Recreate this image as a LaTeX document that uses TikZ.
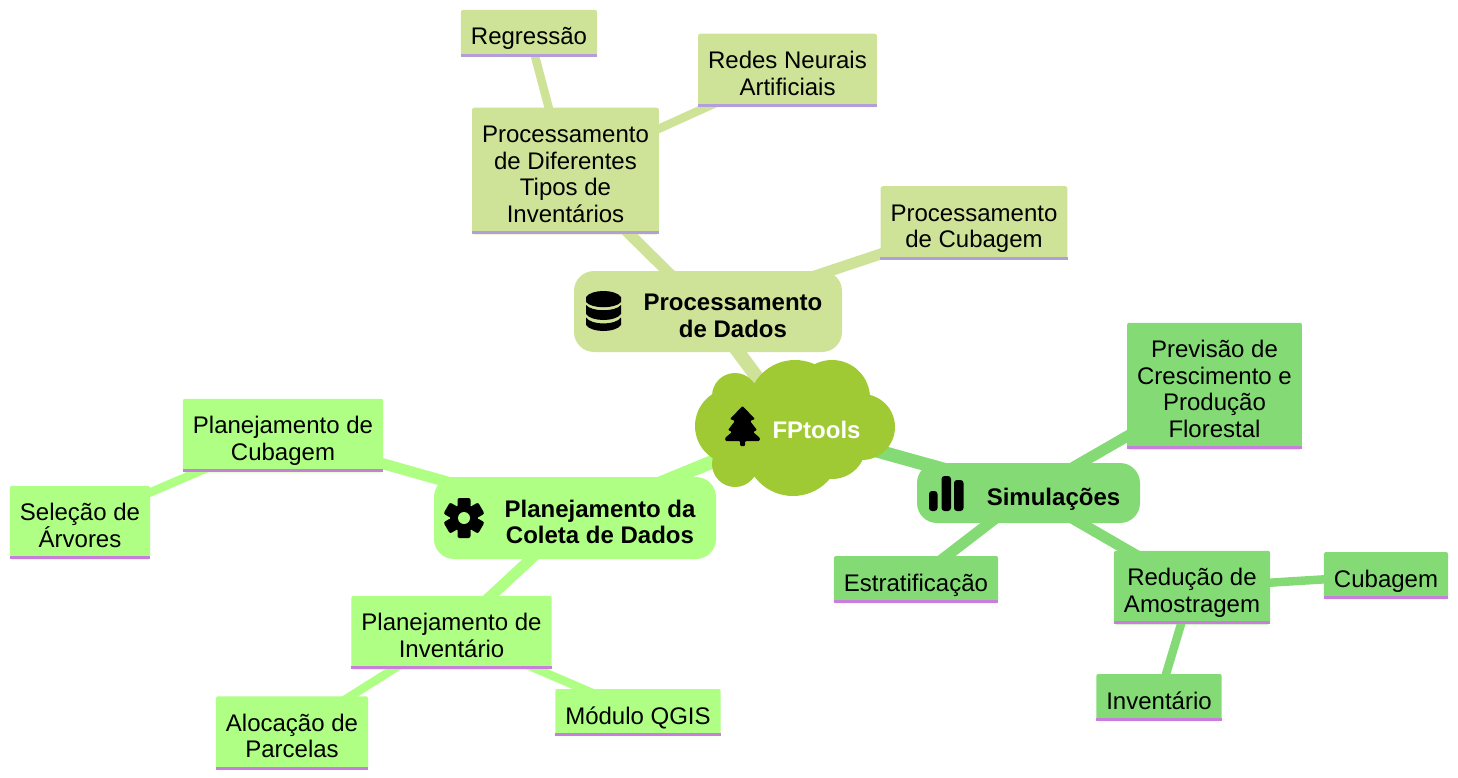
\documentclass[tikz,border=0pt]{standalone}
\usepackage{fontspec}
\setmainfont{Liberation Sans}
\usetikzlibrary{%
calc,%
backgrounds}
\definecolor{dadoscol}{HTML}{CEE397}
\definecolor{planocol}{HTML}{AEFF84}
\definecolor{simulcol}{HTML}{84DB75}
\definecolor{rootcol}{HTML}{9FCA33}
\definecolor{dadosline}{HTML}{B39DDB}
\definecolor{planoline}{HTML}{C77FDB}
\newcommand{\topstrut}{\rule{0pt}{35pt}}
\tikzset{
leafbox/.style 2 args={fill=#1,rounded corners=2pt,align=center,inner xsep=10pt,inner ysep=0pt,
    font=\fontsize{24}{26.5}\selectfont,
    execute at end node={\rule[-12pt]{0pt}{12pt}},
    append after command={[rounded corners=0pt]
    ([yshift=1.5pt]\tikzlastnode.south west) edge[draw=#2,line width=3pt] ([yshift=1.5pt]\tikzlastnode.south east)}},
sectionbox/.style={fill=#1,rounded corners=20pt},
sectiontext/.style={align=center,font=\fontsize{24}{26.5}\selectfont\bfseries},
branchone/.style={line width=13.5pt,draw=#1},
branchtwo/.style={line width=11pt,draw=#1},
branchthree/.style={line width=8.5pt,draw=#1}
}
\begin{document}
\begin{tikzpicture}[x=1pt,y=-1pt]
\useasboundingbox (0,0) rectangle (1458,778);
% root
\node[inner sep=0pt] (root) at (795,428) {};
\fill[rootcol] (735,396) circle (23) (735,464) circle (23) (733,426) circle (38)
    (795,407) circle (47) (832,398) circle (38) (862,427) circle (33)
    (793,448) circle (48) (832,445) circle (34);
\node[text=white,font=\fontsize{24}{26.5}\selectfont\bfseries,inner sep=0pt] (roottext) at (816.5,430) {FPtools};
% sections
\node[sectionbox=dadoscol,minimum width=268pt,minimum height=81pt] (dados) at (708,311.5) {};
\node[sectiontext] (dadostext) at (733,316) {Processamento\\de Dados};
\node[sectionbox=planocol,minimum width=282pt,minimum height=82pt] (plano) at (575,518) {};
\node[sectiontext] (planotext) at (600,522) {Planejamento da\\Coleta de Dados};
\node[sectionbox=simulcol,minimum width=223pt,minimum height=60pt] (simul) at (1028.5,493) {};
\node[sectiontext] (simultext) at (1053.5,499) {Simulações};
% leaves
\node[leafbox={dadoscol}{dadosline}] (difer) at (565.5,171) {\topstrut Processamento\\de Diferentes\\Tipos de\\Inventários};
\node[leafbox={dadoscol}{dadosline}] (regres) at (529,33.5) {\topstrut Regressão};
\node[leafbox={dadoscol}{dadosline}] (redes) at (787.5,70.5) {\topstrut Redes Neurais\\Artificiais};
\node[leafbox={dadoscol}{dadosline}] (cubdados) at (974,223) {\topstrut Processamento\\de Cubagem};
\node[leafbox={planocol}{planoline}] (plancub) at (283,435.5) {\topstrut Planejamento de\\Cubagem};
\node[leafbox={planocol}{planoline}] (selecao) at (80,522.5) {\topstrut Seleção de\\Árvores};
\node[leafbox={planocol}{planoline}] (planinv) at (451.5,632.5) {\topstrut Planejamento de\\Inventário};
\node[leafbox={planocol}{planoline}] (alocacao) at (292,733) {\topstrut Alocação de\\Parcelas};
\node[leafbox={planocol}{planoline}] (qgis) at (638,712.5) {\topstrut Módulo QGIS};
\node[leafbox={simulcol}{planoline}] (previsao) at (1214.5,386) {\topstrut Previsão de\\Crescimento e\\Produção\\Florestal};
\node[leafbox={simulcol}{planoline}] (estrat) at (916,579.5) {\topstrut Estratificação};
\node[leafbox={simulcol}{planoline}] (reducao) at (1192,587.5) {\topstrut Redução de\\Amostragem};
\node[leafbox={simulcol}{planoline}] (cubsim) at (1386,575.5) {\topstrut Cubagem};
\node[leafbox={simulcol}{planoline}] (invsim) at (1159,697.5) {\topstrut Inventário};
% connectors
\begin{scope}[on background layer]
\draw[branchone=dadoscol] (root.center) -- (dados.center);
\draw[branchone=planocol] (root.center) -- (plano.center);
\draw[branchone=simulcol] (root.center) -- (simul.center);
\draw[branchtwo=dadoscol] (dados.center) -- (difer.center);
\draw[branchtwo=dadoscol] (dados.center) -- (cubdados.center);
\draw[branchtwo=planocol] (plano.center) -- (plancub.center);
\draw[branchtwo=planocol] (plano.center) -- (planinv.center);
\draw[branchtwo=simulcol] (simul.center) -- (previsao.center);
\draw[branchtwo=simulcol] (simul.center) -- (estrat.center);
\draw[branchtwo=simulcol] (simul.center) -- (reducao.center);
\draw[branchthree=dadoscol] (difer.center) -- (regres.center);
\draw[branchthree=dadoscol] (difer.center) -- (redes.center);
\draw[branchthree=planocol] (plancub.center) -- (selecao.center);
\draw[branchthree=planocol] (planinv.center) -- (alocacao.center);
\draw[branchthree=planocol] (planinv.center) -- (qgis.center);
\draw[branchthree=simulcol] (reducao.center) -- (cubsim.center);
\draw[branchthree=simulcol] (reducao.center) -- (invsim.center);
\end{scope}
% icons
\begin{scope}[shift={(603.5,311)}]
\fill (-17.5,-14) .. controls (-12,-22) and (12,-22) .. (17.5,-14) -- (17.5,-9)
    .. controls (12,-2) and (-12,-2) .. (-17.5,-9) -- cycle;
\fill (-17.5,-6) .. controls (-12,1) and (12,1) .. (17.5,-6) -- (17.5,3)
    .. controls (12,11) and (-12,11) .. (-17.5,3) -- cycle;
\fill (-17.5,6.5) .. controls (-12,14.5) and (12,14.5) .. (17.5,6.5) -- (17.5,14)
    .. controls (12,22) and (-12,22) .. (-17.5,14) -- cycle;
\end{scope}
\begin{scope}[shift={(464,518)}]
\foreach \a in {30,90,...,330} {
    \fill[rotate=\a,rounded corners=2pt] (11,-6.5) rectangle (20,6.5);
}
\fill (0,0) circle (14);
\fill[planocol] (0,0) circle (6);
\end{scope}
\fill[rounded corners=3pt] (929,491) rectangle (937.5,511);
\fill[rounded corners=3pt] (941.5,476) rectangle (951,511);
\fill[rounded corners=3pt] (954,480) rectangle (963.5,511);
\fill[rounded corners=1pt] (742.5,406) -- (755,419) -- (750,421) -- (757,430) -- (753,432) -- (760,438)
    -- (759.5,441) -- (745,441) -- (745,446) -- (740,446) -- (740,441) -- (725.5,441) -- (725,438)
    -- (732,432) -- (728,430) -- (735,421) -- (730,419) -- cycle;
\end{tikzpicture}
\end{document}
